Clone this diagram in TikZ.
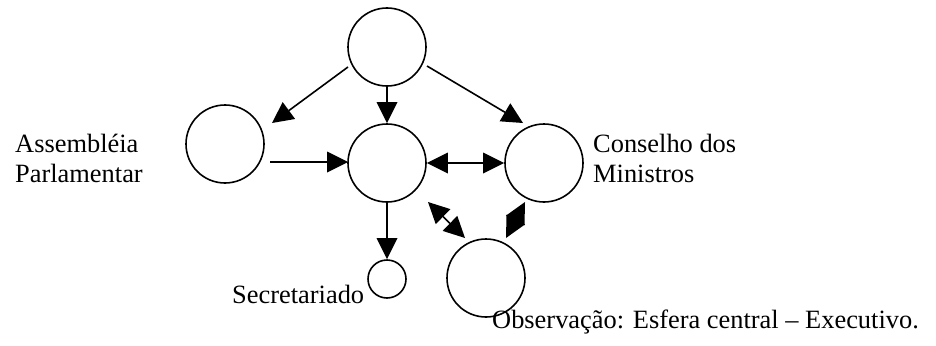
\documentclass[tikz,border=0pt]{standalone}
\usepackage{fontspec}
\setmainfont{Liberation Serif}
\usetikzlibrary{arrows.meta}
\begin{document}
\begin{tikzpicture}[x=1pt,y=-1pt,
  ball/.style={circle,draw,line width=1.6pt,inner sep=0pt,minimum size=78pt},
  smallball/.style={circle,draw,line width=1.6pt,inner sep=0pt,minimum size=38pt},
  head/.style={},
  conn/.style={line width=1.6pt,-{Triangle[length=21pt,width=21pt,line width=0pt]}},
  biconn/.style={line width=1.6pt,{Triangle[length=21pt,width=21pt,line width=0pt]}-{Triangle[length=21pt,width=21pt,line width=0pt]}},
  lbl/.style={anchor=base west,inner sep=0pt,font=\fontsize{26.4}{30}\selectfont}]
\useasboundingbox (0,0) rectangle (936,345);
% circles
\node[ball] (top) at (387,47) {};
\node[ball] (asm) at (225,144) {};
\node[ball] (exe) at (387,163) {};
\node[ball] (cons) at (544,163) {};
\node[ball] (obs) at (486,278) {};
\node[smallball] (sec) at (387,279) {};
% free ends
\coordinate (tlA) at (348,67);
\coordinate (tlB) at (272,123);
\coordinate (trA) at (427,66);
\coordinate (trB) at (523,123);
\coordinate (lcA) at (270,162);
\coordinate (lcB) at (348,162);
\coordinate (cbA) at (428,202);
\coordinate (cbB) at (465,238);
\coordinate (brA) at (506,238);
\coordinate (brB) at (525,202);
% connectors
\draw[conn] (tlA) -- (tlB);
\draw[conn] (top.south) -- (exe.north);
\draw[conn] (trA) -- (trB);
\draw[conn] (lcA) -- (lcB);
\draw[biconn] (exe.east) -- (cons.west);
\draw[biconn] (cbA) -- (cbB);
\draw[biconn] (brA) -- (brB);
\draw[conn] (exe.south) -- (sec.north);
% labels
\node[lbl] (asm1) at (15,152) {Assembléia};
\node[lbl] (asm2) at (15,182) {Parlamentar};
\node[lbl] (cons1) at (593,152) {Conselho dos};
\node[lbl] (cons2) at (593,182) {Ministros};
\node[lbl] (secl) at (232,303) {Secretariado};
\node[lbl] (note) at (492,328) {Observação: Esfera central – Executivo.};
\end{tikzpicture}
\end{document}
